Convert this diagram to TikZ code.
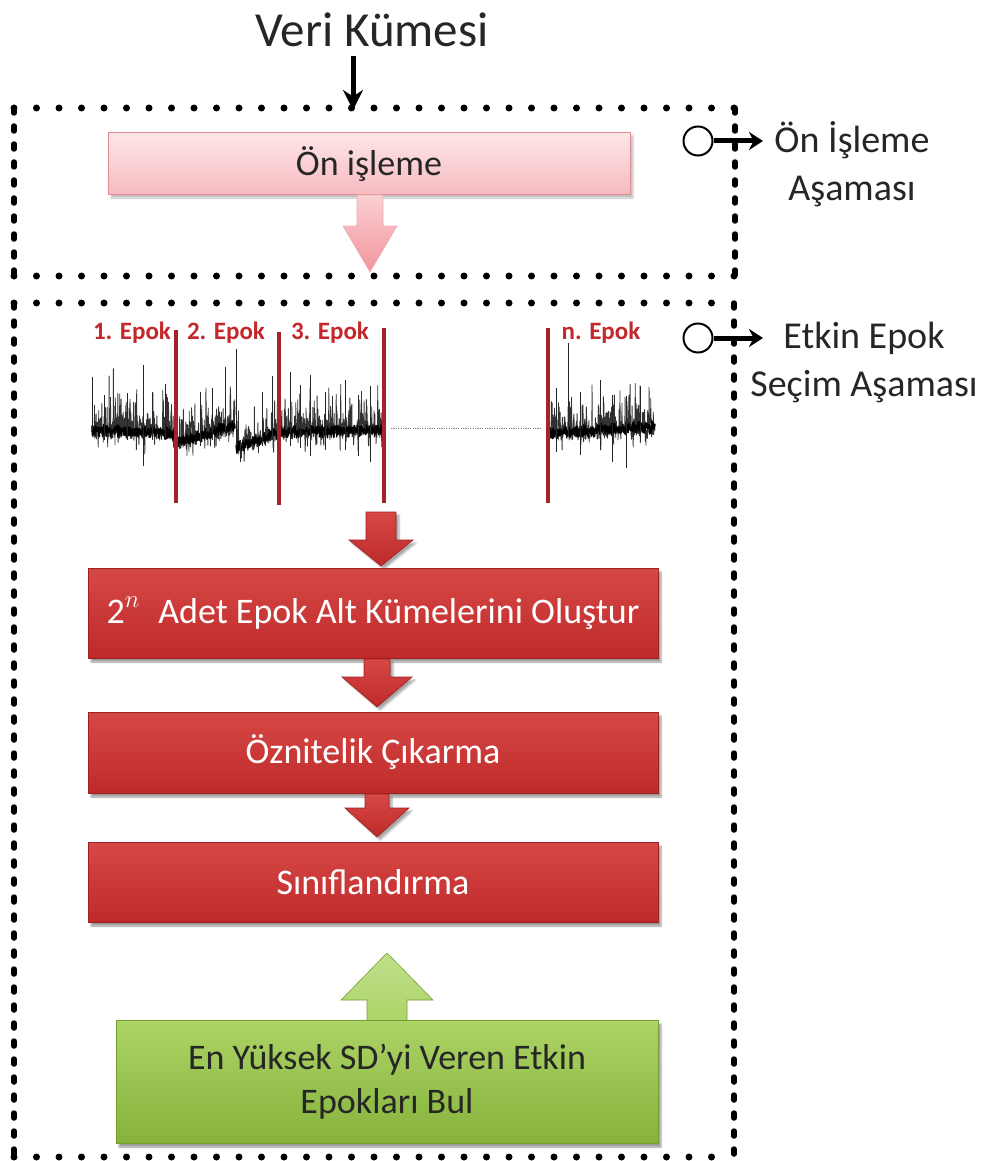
\documentclass[tikz,border=0pt]{standalone}
\usepackage{fontspec}
\setmainfont{Carlito}
\usetikzlibrary{arrows.meta,shadows,shadows.blur}

\definecolor{pinkTop}{RGB}{253,230,232}
\definecolor{pinkBot}{RGB}{246,186,191}
\definecolor{pinkEdge}{RGB}{225,140,145}
\definecolor{pinkArrTop}{RGB}{250,208,211}
\definecolor{pinkArrBot}{RGB}{243,148,156}
\definecolor{redTop}{RGB}{214,72,70}
\definecolor{redBot}{RGB}{190,42,42}
\definecolor{redEdge}{RGB}{160,32,32}
\definecolor{greenTop}{RGB}{172,212,102}
\definecolor{greenBot}{RGB}{134,178,60}
\definecolor{greenEdge}{RGB}{118,158,52}
\definecolor{inkGray}{RGB}{38,38,38}
\definecolor{epokRed}{RGB}{196,40,45}

% block arrow: style, x, y of tail, y of neck, y of tip, half shaft, half head
\newcommand\blockarrow[7]{%
  \path[#1] ({#2-#6},#3) -- ({#2+#6},#3) -- ({#2+#6},#4) -- ({#2+#7},#4)
    -- (#2,#5) -- ({#2-#7},#4) -- ({#2-#6},#4) -- cycle;}

% one stretch of the EEG trace: x from, x to, level from, level to, samples
\newcommand\eegseg[5]{%
  \draw[eeg] plot[domain=#1:#2, samples=#5]
    (\x, {#3+(#4-#3)*(\x-#1)/(#2-#1) + 5*rand
          - ifthenelse(rnd>0.25, 42*rnd*rnd, 0)
          - ifthenelse(rnd>0.93, 40*rnd, 0)
          + ifthenelse(rnd>0.88, 16*rnd, 0)});
  \draw[eegbase] plot[domain=#1:#2, samples=#5]
    (\x, {#3+(#4-#3)*(\x-#1)/(#2-#1) + 3*rand - 8*rnd});}

\begin{document}
\begin{tikzpicture}[x=1pt,y=-1pt,
  hdots/.style={line width=7pt, line cap=round, dash pattern=on 0pt off 22.5pt},
  vdash/.style={line width=5.5pt, line cap=round, dash pattern=on 5pt off 13pt},
  boxtxt/.style={font=\fontsize{36}{44}\selectfont, align=center},
  pinkbox/.style={boxtxt, draw=pinkEdge, line width=1pt, top color=pinkTop,
    bottom color=pinkBot, text=inkGray,
    blur shadow={shadow xshift=3pt, shadow yshift=-3pt, shadow opacity=25}},
  redbox/.style={boxtxt, draw=redEdge, line width=0.8pt, top color=redTop,
    bottom color=redBot, text=white, minimum width=570pt,
    blur shadow={shadow xshift=3pt, shadow yshift=-4pt, shadow opacity=40}},
  greenbox/.style={boxtxt, draw=greenEdge, line width=0.8pt, top color=greenTop,
    bottom color=greenBot, text=inkGray,
    blur shadow={shadow xshift=3pt, shadow yshift=-4pt, shadow opacity=40}},
  pinkarrow/.style={draw=pinkEdge!70, line width=0.6pt, top color=pinkArrTop, bottom color=pinkArrBot},
  redarrow/.style={draw=redEdge, line width=0.6pt, top color=redTop, bottom color=redBot,
    blur shadow={shadow xshift=3pt, shadow yshift=-3pt, shadow opacity=35}},
  greenarrow/.style={draw=greenEdge, line width=0.6pt, top color=greenTop!75!white, bottom color=greenTop},
  stagelbl/.style={font=\fontsize{38}{48}\selectfont, align=center, text=inkGray},
  marker/.style={circle, draw=black, line width=2pt, minimum size=29pt, inner sep=0pt},
  markerarrow/.style={line width=5pt, -{Stealth[length=14pt,width=18pt]}},
  eeg/.style={line width=0.8pt, black!80, line join=round},
  eegbase/.style={line width=1.4pt, black, line join=round},
  spike/.style={line width=1pt, black!85},
  epokline/.style={line width=3.2pt, epokRed!85!black},
  epoklbl/.style={font=\fontsize{25}{28}\selectfont\bfseries, text=epokRed}]

\useasboundingbox (0,0) rectangle (991,1161);

% ---------- title and input arrow ----------
\node[font=\fontsize{49}{58}\selectfont, text=inkGray] (veri) at (372,30) {Veri Kümesi};
\coordinate (inTail) at (353,56);
\coordinate (inHead) at (353,110);
\draw[line width=5pt, -{Stealth[length=20pt,width=20pt]}] (inTail) -- (inHead);

% ---------- preprocessing frame ----------
\coordinate (f1nw) at (14,108);
\coordinate (f1ne) at (735,108);
\coordinate (f1se) at (735,276);
\coordinate (f1sw) at (14,276);
\draw[hdots] (f1nw) -- (f1ne);
\draw[hdots] (f1sw) -- (f1se);
\draw[vdash] (f1nw) -- (f1sw);
\draw[vdash] (f1ne) -- (f1se);

\node[pinkbox, minimum width=522pt, minimum height=62pt] (pre) at (369,164) {Ön işleme};
\blockarrow{pinkarrow}{370}{195}{226}{272}{13}{27}

% ---------- selection frame ----------
\coordinate (f2nw) at (14,303);
\coordinate (f2ne) at (734,303);
\coordinate (f2se) at (734,1157);
\coordinate (f2sw) at (14,1157);
\draw[hdots] (f2nw) -- (f2ne);
\draw[hdots] (f2sw) -- (f2se);
\draw[vdash] (f2nw) -- (f2sw);
\draw[vdash] (f2ne) -- (f2se);

% ---------- stage markers ----------
\node[marker] (m1) at (698,141) {};
\coordinate (m1tip) at (763,141);
\draw[markerarrow] (m1.east) -- (m1tip);
\node[stagelbl] (s1) at (852,164) {Ön İşleme\\Aşaması};

\node[marker] (m2) at (698,338) {};
\coordinate (m2tip) at (763,338);
\draw[markerarrow] (m2.east) -- (m2tip);
\node[stagelbl] (s2) at (864,362) {Etkin Epok\\Seçim Aşaması};

% ---------- EEG trace split into epochs ----------
\pgfmathsetseed{11}
\eegseg{92}{176}{434}{437}{300}
\eegseg{176}{235}{447}{429}{210}
\eegseg{236}{279}{452}{436}{160}
\eegseg{279}{384}{436}{434}{370}
\eegseg{548}{655}{437}{431}{380}

\foreach \sx/\sa/\sb in {92/377/430, 104/395/440, 127/393/440, 143/365/466, 152/392/440,
    165/384/440, 200/392/446, 212/388/440, 225/367/432, 236/349/446, 240/440/462,
    262/392/446, 272/376/440, 290/372/446, 300/385/448, 310/375/456, 325/392/450,
    345/380/450, 358/395/456, 370/386/462, 556/388/452, 568/343/436, 580/392/455,
    600/380/450, 612/395/462, 626/396/468, 640/386/440}
  \draw[spike] (\sx,\sa) -- (\sx,\sb);

\coordinate (gapL) at (391,428);
\coordinate (gapR) at (540,428);
\draw[gray, line width=1pt, dash pattern=on 1.2pt off 1.2pt] (gapL) -- (gapR);

\draw[epokline] (176,330) -- (176,503);
\draw[epokline] (279,332) -- (279,505);
\draw[epokline] (384,328) -- (384,503);
\draw[epokline] (548,328) -- (548,503);

\node[epoklbl] (ep1) at (132,333) {1. Epok};
\node[epoklbl] (ep2) at (226,333) {2. Epok};
\node[epoklbl] (ep3) at (330,333) {3. Epok};
\node[epoklbl] (epn) at (601,333) {n. Epok};

% ---------- processing chain ----------
\blockarrow{redarrow}{381}{512}{540}{566}{15}{32}

\node[redbox, minimum height=90pt] (sub) at (373,613)
  {2\raisebox{0.45em}{\fontsize{26}{26}\selectfont$n$}\hspace{0.3em} Adet Epok Alt Kümelerini Oluştur};
\node[redbox, minimum height=81pt] (feat) at (373,752.5) {Öznitelik Çıkarma};
\node[redbox, minimum height=80pt] (cls) at (373,882) {Sınıflandırma};

\blockarrow{redarrow}{377}{659}{677}{707}{13}{35}
\blockarrow{redarrow}{377}{794}{808}{837}{12}{32}

% ---------- feedback from the search step ----------
\blockarrow{greenarrow}{387}{1024}{1000}{953}{20}{46}
\node[greenbox, minimum width=542pt, minimum height=123pt] (best) at (387,1081.5)
  {En Yüksek SD’yi Veren Etkin\\Epokları Bul};

\end{tikzpicture}
\end{document}
